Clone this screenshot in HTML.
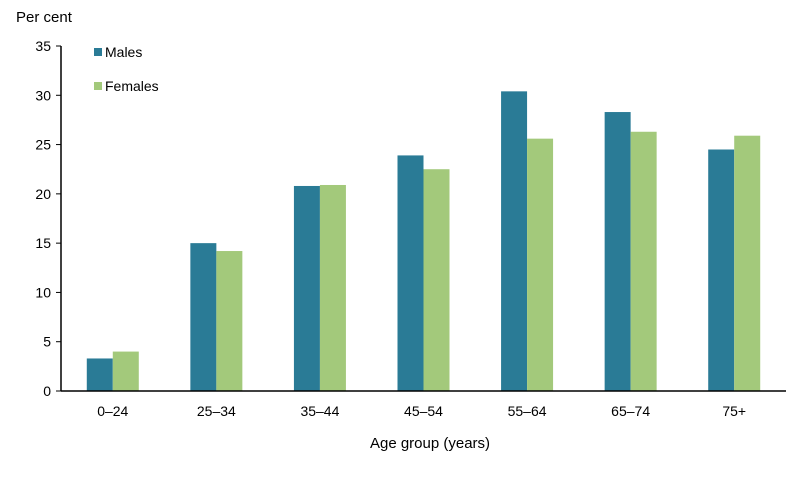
<!DOCTYPE html>
<html><head><meta charset="utf-8"><style>
body{margin:0;background:#fff;font-family:"Liberation Sans",Arial,sans-serif}
text{font-family:"Liberation Sans",Arial,sans-serif;fill:#000}
</style></head><body>
<svg id="chart" width="800" height="475">
<text x="16" y="22" font-size="15">Per cent</text>
<text x="430" y="448" font-size="15" text-anchor="middle">Age group (years)</text>
<g id="legend">
<rect x="94" y="48" width="8" height="8" fill="#2a7b96"/>
<text x="105" y="57" font-size="14">Males</text>
<rect x="94" y="82" width="8" height="8" fill="#a3c97b"/>
<text x="105" y="91" font-size="14">Females</text>
</g>
</svg>
<script>
const categories=["0–24","25–34","35–44","45–54","55–64","65–74","75+"];
const males=[3.3,15.0,20.8,23.9,30.4,28.3,24.5];
const females=[4.0,14.2,20.9,22.5,25.6,26.3,25.9];
const yTicks=[0,5,10,15,20,25,30,35];
const NS="http://www.w3.org/2000/svg";
const svg=document.getElementById('chart');
const x0=61,x1=786,yBase=391,yTop=46,yMax=35;
const bw=(x1-x0)/categories.length,barW=26;
const y=v=>yBase-(v/yMax)*(yBase-yTop);
const cx=i=>x0+bw*(i+0.5);
function mk(t,a){const e=document.createElementNS(NS,t);for(const k in a)e.setAttribute(k,a[k]);svg.appendChild(e);return e;}
yTicks.forEach(t=>{
 const l=mk('line',{x1:x0-5,x2:x0,y1:y(t),y2:y(t),stroke:'#000'});
 
 
 const tx=mk('text',{x:x0-10,y:y(t)+5,'font-size':14,'text-anchor':'end'});
 tx.textContent=t;
 
 
});
categories.forEach((c,i)=>{
 const m=mk('rect',{x:cx(i)-barW,y:y(males[i]),width:barW,height:yBase-y(males[i]),fill:'#2a7b96'});
 
 
 const f=mk('rect',{x:cx(i),y:y(females[i]),width:barW,height:yBase-y(females[i]),fill:'#a3c97b'});
 
 
 const t=mk('text',{x:cx(i),y:yBase+25,'font-size':14,'text-anchor':'middle'});
 t.textContent=c;
 
 
});
const ya=mk('line',{x1:x0,x2:x0,y1:yTop,y2:yBase,stroke:'#000','stroke-width':1.5});


const xa=mk('line',{x1:x0,x2:x1,y1:yBase,y2:yBase,stroke:'#000','stroke-width':1.5});


</script>
</body></html>
